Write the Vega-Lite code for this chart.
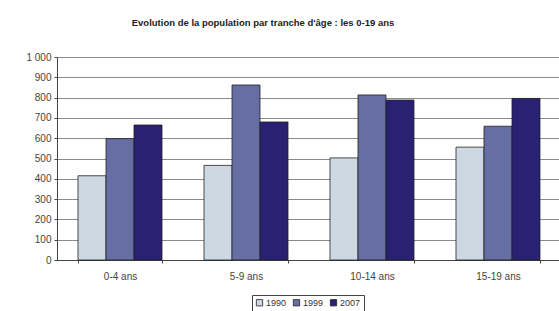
{
  "$schema": "https://vega.github.io/schema/vega-lite/v6.json",
  "width": 504,
  "height": 203,
  "autosize": {"type": "none"},
  "padding": {"left": 57, "top": 57, "right": 0, "bottom": 51},
  "background": "white",
  "title": {
    "text": "Evolution de la population par tranche d'âge : les 0-19 ans",
    "anchor": "middle",
    "frame": "group",
    "dx": -46,
    "offset": 25,
    "fontSize": 9.5,
    "fontWeight": "bold",
    "font": "Liberation Sans",
    "color": "#222"
  },
  "data": {
    "values": [
      {"age": "0-4 ans", "year": "1990", "population": 415},
      {"age": "0-4 ans", "year": "1999", "population": 598},
      {"age": "0-4 ans", "year": "2007", "population": 665},
      {"age": "5-9 ans", "year": "1990", "population": 466},
      {"age": "5-9 ans", "year": "1999", "population": 862},
      {"age": "5-9 ans", "year": "2007", "population": 680},
      {"age": "10-14 ans", "year": "1990", "population": 503},
      {"age": "10-14 ans", "year": "1999", "population": 813},
      {"age": "10-14 ans", "year": "2007", "population": 788},
      {"age": "15-19 ans", "year": "1990", "population": 556},
      {"age": "15-19 ans", "year": "1999", "population": 659},
      {"age": "15-19 ans", "year": "2007", "population": 796}
    ]
  },
  "mark": {"type": "bar", "stroke": "#222", "strokeWidth": 0.8},
  "encoding": {
    "x": {
      "field": "age",
      "type": "nominal",
      "sort": ["0-4 ans", "5-9 ans", "10-14 ans", "15-19 ans"],
      "scale": {"paddingInner": 0.3333, "paddingOuter": 0.1667},
      "axis": {
        "title": null,
        "labelAngle": 0,
        "tickBand": "extent",
        "tickSize": 3,
        "tickColor": "#444",
        "domainColor": "#444",
        "labelPadding": 8,
        "labelFontSize": 10,
        "labelColor": "#444",
        "labelFont": "Liberation Sans"
      }
    },
    "xOffset": {
      "field": "year",
      "type": "nominal",
      "scale": {"paddingInner": 0, "paddingOuter": 0}
    },
    "y": {
      "field": "population",
      "type": "quantitative",
      "scale": {"domain": [0, 1000], "nice": false},
      "axis": {
        "title": null,
        "values": [0, 100, 200, 300, 400, 500, 600, 700, 800, 900, 1000],
        "labelExpr": "replace(format(datum.value, ','), ',', ' ')",
        "tickSize": 3,
        "tickColor": "#444",
        "domainColor": "#444",
        "gridColor": "#8a8a8a",
        "gridWidth": 1,
        "labelPadding": 3,
        "labelFontSize": 10,
        "labelColor": "#444",
        "labelFont": "Liberation Sans"
      }
    },
    "color": {
      "field": "year",
      "type": "nominal",
      "scale": {"domain": ["1990", "1999", "2007"], "range": ["#cdd8e3", "#666ea3", "#2a2173"]},
      "legend": {
        "title": null,
        "orient": "none",
        "direction": "horizontal",
        "legendX": 195,
        "legendY": 238,
        "strokeColor": "#444",
        "padding": 3,
        "symbolType": "square",
        "symbolSize": 40,
        "symbolStrokeColor": "#222",
        "symbolStrokeWidth": 0.8,
        "labelFontSize": 9,
        "labelFont": "Liberation Sans",
        "labelColor": "#333",
        "columnPadding": 4,
        "labelOffset": 2
      }
    }
  },
  "config": {
    "view": {"stroke": null},
    "font": "Liberation Sans"
  }
}
